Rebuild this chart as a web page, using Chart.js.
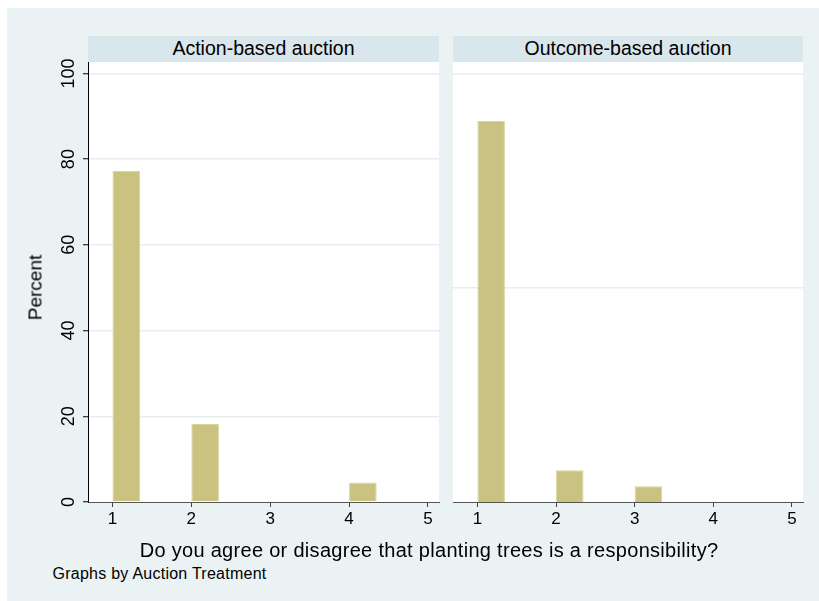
<!DOCTYPE html>
<html>
<head>
<meta charset="utf-8">
<script src="https://cdn.jsdelivr.net/npm/chart.js@4/dist/chart.umd.min.js"></script>
<style>
  html, body { margin: 0; padding: 0; background: #ffffff; }
  body { width: 819px; height: 601px; position: relative; overflow: hidden;
         font-family: "Liberation Sans", Arial, Helvetica, sans-serif; color: #000; }
  #frame { position: absolute; left: 7px; top: 8px; right: 0; bottom: 0; background: #eaf2f3; }
  canvas { position: absolute; top: 0; }
  .hdr { position: absolute; top: 36px; height: 26px; background: #d9e6eb;
         font-size: 19.5px; line-height: 24px; text-align: center; white-space: nowrap; }
  #xtitle { position: absolute; left: 129px; width: 600px; top: 540px; font-size: 20px;
            line-height: 20px; text-align: center; white-space: nowrap; letter-spacing: 0.3px; }
  #note { position: absolute; left: 52.5px; top: 565.5px; font-size: 16px; line-height: 16px;
          white-space: nowrap; letter-spacing: 0.25px; }
  #ytitle { position: absolute; left: -65px; width: 200px; top: 278px; font-size: 19px;
            line-height: 19px; text-align: center; transform: rotate(-90deg); white-space: nowrap; }
</style>
</head>
<body>
<div id="frame"></div>
<canvas id="leftPanel" width="445" height="540" style="left:0px"></canvas>
<canvas id="rightPanel" width="374" height="540" style="left:445px"></canvas>
<div class="hdr" style="left:88px;width:351px">Action-based auction</div>
<div class="hdr" style="left:453px;width:350px">Outcome-based auction</div>
<div id="ytitle">Percent</div>
<div id="xtitle">Do you agree or disagree that planting trees is a responsibility?</div>
<div id="note">Graphs by Auction Treatment</div>
<script>
// Response categories (1 = strongly agree ... 5 = strongly disagree)
const CATEGORIES = [1, 2, 3, 4, 5];
// Percent of respondents in each category, by auction treatment
const ACTION_PCT  = [77.27, 18.18, 0, 4.55, 0];
const OUTCOME_PCT = [88.89, 7.41, 3.70, 0, 0];
// Axis ticks
const X_TICKS = [1, 2, 3, 4, 5];
const Y_TICKS = [0, 20, 40, 60, 80, 100];
const Y_GRID_RIGHT = [50, 100];

const BIN_WIDTH = 0.35;
const X_MIN = 0.69, X_MAX = 5.14;
const Y_MIN = 0, Y_MAX = 102.66;

const FONT = '"Liberation Sans", Arial, Helvetica, sans-serif';
const BAR_FILL = '#c9c280';
const BAR_EDGE = '#dad59d';
const GRID = '#e6eef0';

function toPoints(values) {
  return CATEGORIES.map((c, i) => ({ x: c + BIN_WIDTH / 2, y: values[i] }));
}

// white plot region
const plotBackground = {
  id: 'plotBackground',
  beforeDraw(chart) {
    const { ctx, chartArea: a } = chart;
    ctx.save();
    ctx.fillStyle = '#ffffff';
    ctx.fillRect(a.left, a.top, a.right - a.left, a.bottom - a.top);
    ctx.restore();
  }
};

// y tick labels drawn rotated, reading upward
const rotatedYLabels = {
  id: 'rotatedYLabels',
  afterDraw(chart) {
    const y = chart.scales.y;
    const { ctx } = chart;
    ctx.save();
    ctx.fillStyle = '#000';
    ctx.font = '18px ' + FONT;
    ctx.textAlign = 'center';
    ctx.textBaseline = 'alphabetic';
    Y_TICKS.forEach(v => {
      ctx.save();
      ctx.translate(74, y.getPixelForValue(v));
      ctx.rotate(-Math.PI / 2);
      ctx.fillText(String(v), 0, 0);
      ctx.restore();
    });
    ctx.restore();
  }
};

function xScale() {
  return {
    type: 'linear', min: X_MIN, max: X_MAX, offset: false,
    afterBuildTicks: s => { s.ticks = X_TICKS.map(v => ({ value: v })); },
    afterFit: s => { s.height = 38; },
    grid: { offset: false, drawOnChartArea: false, tickLength: 5, tickColor: '#444', tickWidth: 1 },
    border: { display: true, color: '#555', width: 1 },
    ticks: { font: { size: 17, family: FONT }, color: '#000', padding: 2.5, maxRotation: 0, minRotation: 0 }
  };
}

function makePanel(id, values, isLeft) {
  const yScale = isLeft ? {
    type: 'linear', min: Y_MIN, max: Y_MAX,
    afterBuildTicks: s => { s.ticks = Y_TICKS.map(v => ({ value: v })); },
    afterFit: s => { s.width = 88; },
    grid: {
      color: c => (c.tick && c.tick.value === 0) ? 'rgba(0,0,0,0)' : GRID,
      lineWidth: 1.5, tickLength: 5, tickColor: '#000', tickWidth: 1
    },
    border: { display: true, color: '#000', width: 1 },
    ticks: { display: false }
  } : {
    type: 'linear', min: Y_MIN, max: Y_MAX,
    afterBuildTicks: s => { s.ticks = Y_GRID_RIGHT.map(v => ({ value: v })); },
    afterFit: s => { s.width = 0; },
    grid: { color: GRID, lineWidth: 1.5, drawTicks: false },
    border: { display: false },
    ticks: { display: false }
  };

  return new Chart(document.getElementById(id), {
    type: 'bar',
    data: {
      datasets: [{
        data: toPoints(values),
        backgroundColor: BAR_FILL,
        borderColor: BAR_EDGE,
        borderWidth: 1,
        barPercentage: BIN_WIDTH,
        categoryPercentage: 1
      }]
    },
    options: {
      responsive: false,
      animation: false,
      devicePixelRatio: 1,
      layout: { padding: isLeft ? { left: 0, right: 6, top: 62, bottom: 0 }
                                : { left: 8, right: 16, top: 62, bottom: 0 } },
      plugins: { legend: { display: false }, tooltip: { enabled: false }, title: { display: false } },
      scales: { x: xScale(), y: yScale }
    },
    plugins: isLeft ? [plotBackground, rotatedYLabels] : [plotBackground]
  });
}

makePanel('leftPanel', ACTION_PCT, true);
makePanel('rightPanel', OUTCOME_PCT, false);
</script>
</body>
</html>
